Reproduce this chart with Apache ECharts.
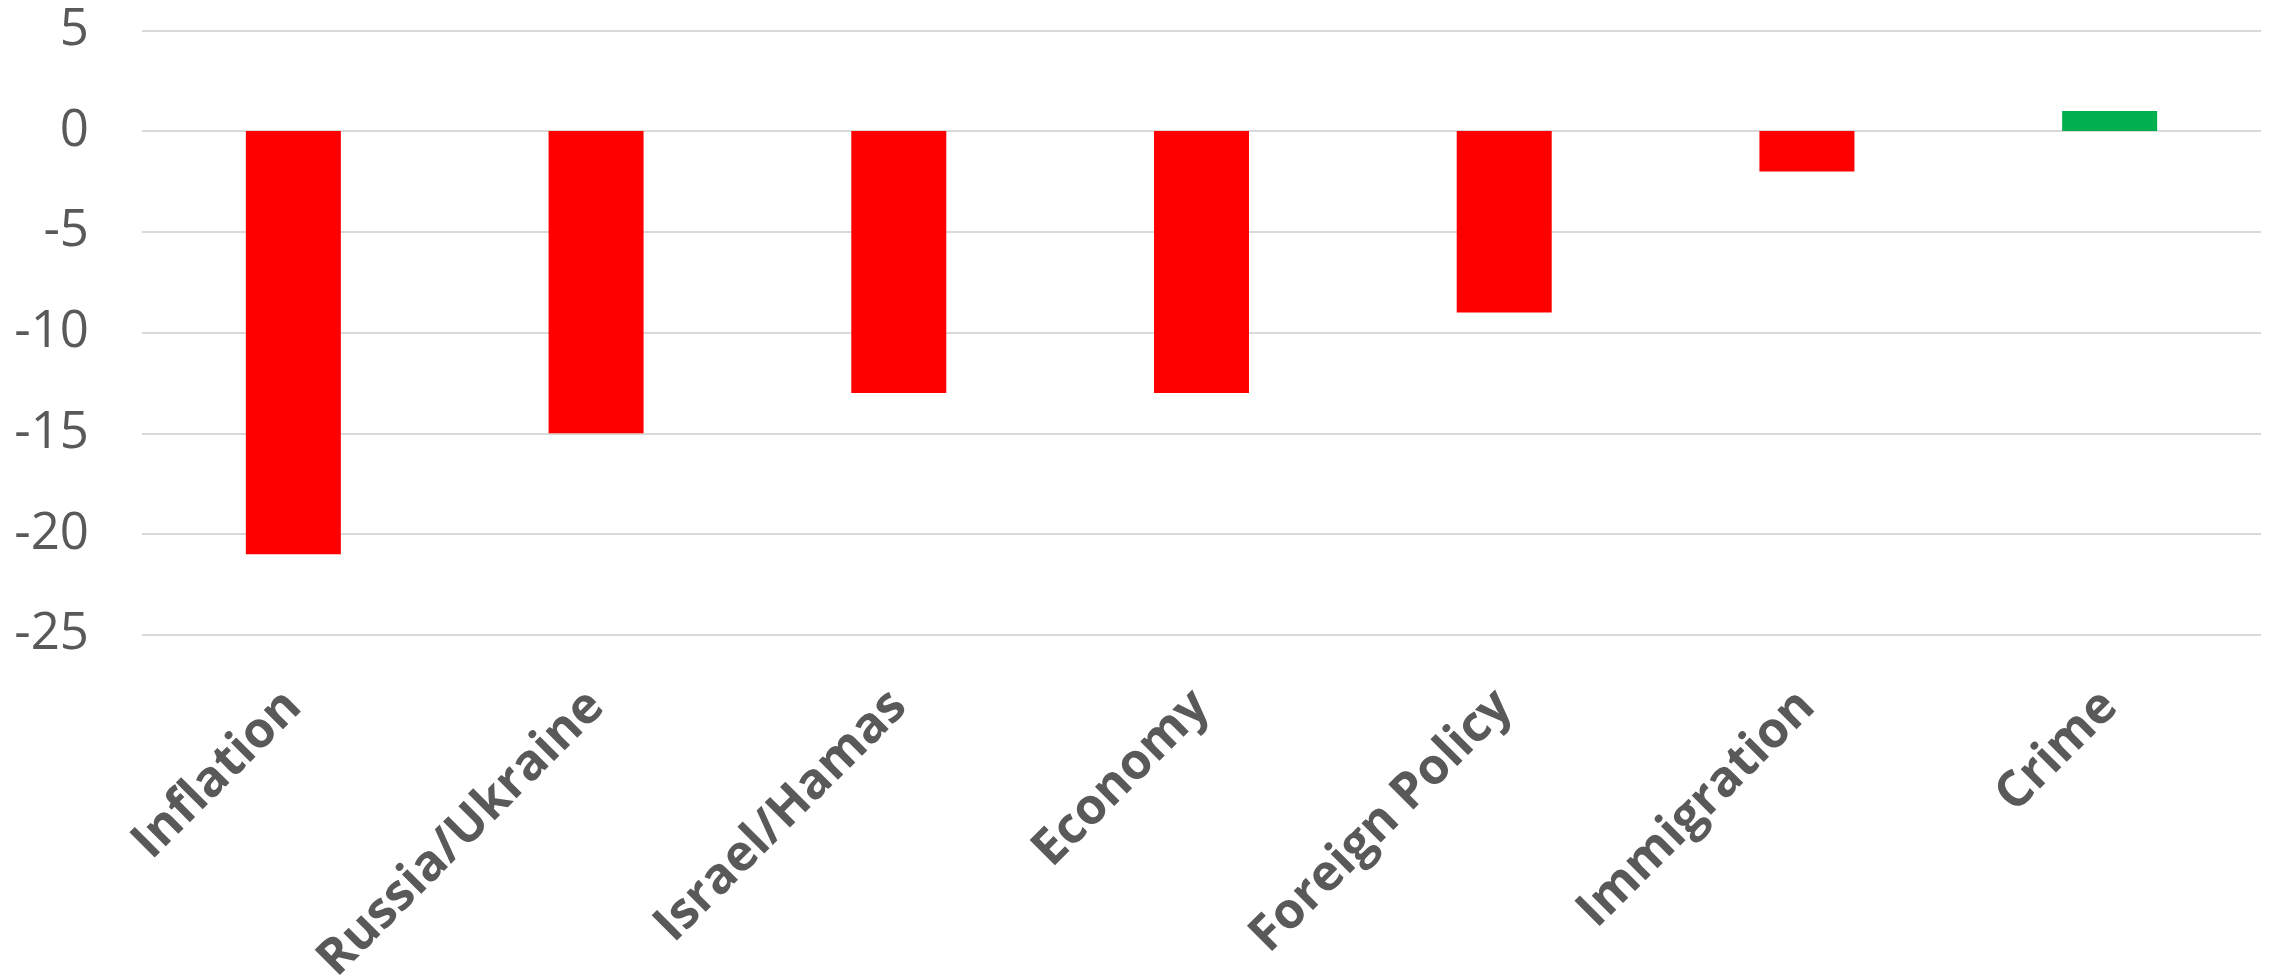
<!DOCTYPE html>
<html>
<head>
<meta charset="utf-8">
<script src="https://cdn.jsdelivr.net/npm/echarts@6/dist/echarts.min.js"></script>
<style>
html,body{margin:0;padding:0;background:#fff;}
#chart{width:2272px;height:980px;}
</style>
</head>
<body>
<div id="chart"></div>
<script>
const categories = ["Inflation", "Russia/Ukraine", "Israel/Hamas", "Economy", "Foreign Policy", "Immigration", "Crime"];
const values = [-21, -15, -13, -13, -9, -2, 1];
const yTicks = [-25, -20, -15, -10, -5, 0, 5];

const chart = echarts.init(document.getElementById('chart'), null, {renderer: 'canvas'});
chart.setOption({
  animation: false,
  backgroundColor: '#ffffff',
  grid: {left: 142, right: 11, top: 30.4, bottom: 345.3, containLabel: false, outerBoundsMode: 'none'},
  xAxis: {
    type: 'category',
    data: categories,
    axisLine: {show: false},
    axisTick: {show: false},
    axisLabel: {
      rotate: 45,
      interval: 0,
      margin: 64,
      color: '#595959',
      fontFamily: 'Open Sans',
      fontWeight: 'bold',
      fontSize: 50
    }
  },
  yAxis: {
    type: 'value',
    min: yTicks[0],
    max: yTicks[yTicks.length - 1],
    interval: 5,
    axisLine: {show: false},
    axisTick: {show: false},
    splitLine: {lineStyle: {color: '#d9d9d9', width: 2}},
    axisLabel: {
      margin: 53,
      color: '#595959',
      fontFamily: 'Open Sans',
      fontSize: 51
    }
  },
  series: [{
    type: 'bar',
    data: values,
    barWidth: 95,
    itemStyle: {
      color: function (p) { return p.value >= 0 ? '#00B050' : '#FF0000'; }
    }
  }]
});
</script>
</body>
</html>
